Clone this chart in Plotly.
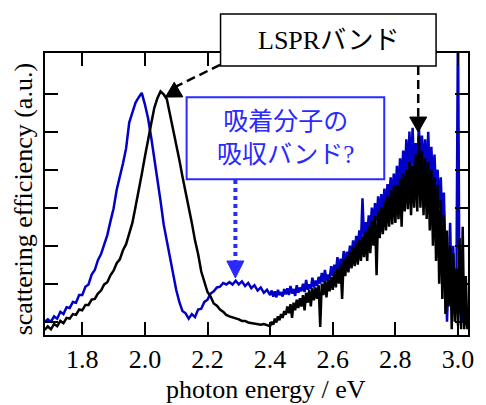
import numpy as np
import plotly.graph_objects as go

# energy grid (eV)
energy_low = np.round(np.arange(1.68, 2.395, 0.01), 3)
energy_high = np.round(np.arange(2.40, 3.0325, 0.005), 3)

blue_low = [0.000, 0.006, 0.000, 0.014, 0.008, 0.026, 0.020, 0.038, 0.036, 0.052,
            0.050, 0.070, 0.070, 0.092, 0.098, 0.124, 0.136, 0.162, 0.178, 0.206,
            0.228, 0.264, 0.298, 0.347, 0.378, 0.416, 0.456, 0.524, 0.550, 0.576,
            0.590, 0.602, 0.572, 0.536, 0.486, 0.432, 0.370, 0.318, 0.256, 0.214,
            0.166, 0.126, 0.084, 0.052, 0.028, 0.022, 0.008, 0.020, 0.012, 0.032,
            0.034, 0.052, 0.058, 0.074, 0.080, 0.090, 0.092, 0.102, 0.098, 0.104,
            0.098, 0.108, 0.098, 0.106, 0.094, 0.102, 0.088, 0.096, 0.082, 0.090,
            0.076, 0.084]
blue_high = [0.070, 0.082, 0.066, 0.080, 0.064, 0.084, 0.070, 0.078, 0.066, 0.086,
             0.072, 0.088, 0.070, 0.094, 0.074, 0.086, 0.068, 0.096, 0.076, 0.090,
             0.080, 0.100, 0.078, 0.110, 0.084, 0.098, 0.086, 0.116, 0.090, 0.108,
             0.094, 0.118, 0.100, 0.128, 0.104, 0.136, 0.108, 0.124, 0.112, 0.146,
             0.120, 0.150, 0.128, 0.170, 0.136, 0.166, 0.142, 0.186, 0.150, 0.184,
             0.160, 0.200, 0.170, 0.214, 0.176, 0.226, 0.196, 0.240, 0.206, 0.325,
             0.214, 0.262, 0.226, 0.280, 0.244, 0.300, 0.250, 0.312, 0.266, 0.330,
             0.280, 0.336, 0.290, 0.350, 0.300, 0.362, 0.316, 0.380, 0.330, 0.390,
             0.330, 0.410, 0.346, 0.430, 0.360, 0.450, 0.372, 0.480, 0.386, 0.500,
             0.390, 0.510, 0.400, 0.470, 0.380, 0.520, 0.410, 0.490, 0.396, 0.480,
             0.380, 0.500, 0.370, 0.460, 0.350, 0.440, 0.330, 0.400, 0.300, 0.380,
             0.260, 0.340, 0.180, 0.000, 0.120, 0.260, 0.060, 0.200, 0.020, 0.100,
             0.800, 0.020, 0.060, 0.000, 0.040, -0.010, 0.020]

black_low = [-0.022, -0.012, -0.020, -0.006, -0.012, 0.002, -0.004, 0.010, 0.008, 0.020,
             0.018, 0.032, 0.030, 0.044, 0.044, 0.058, 0.060, 0.074, 0.082, 0.098,
             0.104, 0.122, 0.134, 0.154, 0.164, 0.188, 0.204, 0.234, 0.260, 0.302,
             0.342, 0.388, 0.434, 0.482, 0.520, 0.562, 0.588, 0.606, 0.598, 0.586,
             0.546, 0.512, 0.464, 0.426, 0.382, 0.344, 0.298, 0.260, 0.214, 0.178,
             0.132, 0.106, 0.078, 0.066, 0.048, 0.042, 0.032, 0.026, 0.018, 0.014,
             0.012, 0.008, 0.006, 0.002, 0.002, -0.002, -0.004, -0.006, -0.006, -0.008,
             -0.006, -0.010]
black_high = [-0.012, 0.000, -0.008, 0.008, -0.002, 0.014, 0.004, 0.020, 0.010, 0.028,
              0.018, 0.040, 0.022, 0.046, 0.010, 0.050, 0.030, 0.058, 0.036, 0.062,
              0.040, 0.070, 0.030, 0.076, 0.050, 0.084, 0.040, 0.088, 0.056, 0.090,
              0.060, 0.096, -0.014, 0.100, 0.070, 0.108, 0.064, 0.112, 0.080, 0.118,
              0.084, 0.130, 0.090, 0.140, 0.100, 0.150, 0.060, 0.164, 0.120, 0.172,
              0.130, 0.184, 0.140, 0.196, 0.146, 0.206, 0.150, 0.216, 0.160, 0.224,
              0.170, 0.236, 0.160, 0.250, 0.180, 0.266, 0.200, 0.280, 0.122, 0.290,
              0.220, 0.300, 0.230, 0.316, 0.240, 0.330, 0.250, 0.346, 0.256, 0.356,
              0.260, 0.360, 0.270, 0.376, 0.250, 0.390, 0.290, 0.400, 0.296, 0.420,
              0.280, 0.410, 0.300, 0.440, 0.290, 0.490, 0.300, 0.450, 0.280, 0.430,
              0.270, 0.420, 0.240, 0.400, 0.200, 0.380, 0.160, 0.360, 0.100, 0.320,
              0.060, 0.280, 0.020, 0.240, 0.040, 0.200, -0.020, 0.180, 0.000, 0.140,
              -0.010, 0.220, -0.020, 0.250, -0.020, 0.120, -0.020]

x_ticks = [1.8, 2.0, 2.2, 2.4, 2.6, 2.8, 3.0]
y_ticks = [0.0, 0.1, 0.2, 0.3, 0.4, 0.5, 0.6]

energy = np.concatenate([energy_low, energy_high])
blue = blue_low + blue_high
black = black_low + black_high

SERIF = "Liberation Serif, 'Noto Sans CJK JP'"
BLUE_LINE = "#0000c8"
BLUE_TXT = "#2a2aff"

fig = go.Figure()
fig.add_trace(go.Scatter(x=energy, y=blue, mode="lines",
                         line=dict(color=BLUE_LINE, width=2.5), showlegend=False))
fig.add_trace(go.Scatter(x=energy, y=black, mode="lines",
                         line=dict(color="black", width=2.5), showlegend=False))

axis_common = dict(showline=True, linecolor="black", linewidth=2, mirror="ticks",
                   ticks="inside", ticklen=13, tickwidth=2, tickcolor="black",
                   showgrid=False, zeroline=False)
fig.update_xaxes(range=[1.681, 3.032], tickvals=x_ticks, tickformat=".1f",
                 tickfont=dict(family=SERIF, size=26, color="black"), **axis_common)
fig.update_yaxes(range=[-0.035, 0.707], tickvals=y_ticks, showticklabels=False,
                 **axis_common)

shapes = []
# LSPR box
shapes.append(dict(type="rect", xref="paper", yref="paper", x0=0.415, x1=0.9245,
                   y0=0.954, y1=1.138, line=dict(color="black", width=1.5),
                   fillcolor="white", layer="above"))
# Blue box
shapes.append(dict(type="rect", xref="paper", yref="paper", x0=0.3348, x1=0.802,
                   y0=0.552, y1=0.843, line=dict(color=BLUE_TXT, width=2),
                   fillcolor="white", layer="above"))
# dashed shaft to the black peak
shapes.append(dict(type="line", xref="x", yref="y", x0=2.240, y0=0.676, x1=2.081, y1=0.611,
                   line=dict(color="black", width=2.5, dash="9px,5px"), layer="above"))
# arrowhead at black peak
shapes.append(dict(type="path", xref="x", yref="y", xsizemode="pixel", ysizemode="pixel",
                   xanchor=2.066, yanchor=0.591,
                   path="M0,0 L8.7,14.9 L17.3,0.2 Z", fillcolor="black",
                   line=dict(color="black", width=1), layer="above"))
# dashed vertical shaft to 2.87 eV
shapes.append(dict(type="line", xref="x", yref="y", x0=2.873, y0=0.673, x1=2.873, y1=0.539,
                   line=dict(color="black", width=2.5, dash="9px,5px"), layer="above"))
shapes.append(dict(type="path", xref="x", yref="y", xsizemode="pixel", ysizemode="pixel",
                   xanchor=2.873, yanchor=0.499,
                   path="M0,0 L-8.5,15 L8.5,15 Z", fillcolor="black",
                   line=dict(color="black", width=1), layer="above"))
# blue dotted shaft
shapes.append(dict(type="line", xref="x", yref="y", x0=2.289, y0=0.373, x1=2.289, y1=0.160,
                   line=dict(color=BLUE_TXT, width=4, dash="dot"), layer="above"))
shapes.append(dict(type="path", xref="x", yref="y", xsizemode="pixel", ysizemode="pixel",
                   xanchor=2.289, yanchor=0.115,
                   path="M0,0 L-8.5,17 L8.5,17 Z", fillcolor=BLUE_TXT,
                   line=dict(color=BLUE_TXT, width=1), layer="above"))

annotations = [
    dict(text="LSPRバンド", xref="paper", yref="paper", x=0.670, y=1.046,
         xanchor="center", yanchor="middle", showarrow=False,
         font=dict(family=SERIF, size=26, color="black")),
    dict(text="吸着分子の<br>吸収バンド?", xref="paper", yref="paper", x=0.5685, y=0.697,
         xanchor="center", yanchor="middle", showarrow=False,
         font=dict(family=SERIF, size=25, color=BLUE_TXT)),
    dict(text="scattering efficiency (a.u.)", xref="paper", yref="paper", x=-0.0514, y=0.482,
         xanchor="center", yanchor="middle", showarrow=False, textangle=-90,
         font=dict(family=SERIF, size=26, color="black")),
    dict(text="photon energy / eV", xref="paper", yref="paper", x=0.523, y=-0.192,
         xanchor="center", yanchor="middle", showarrow=False,
         font=dict(family=SERIF, size=26, color="black")),
]

# the page adds an 8px body margin, so the figure is shifted back by 8px
fig.update_layout(width=478, height=397, margin=dict(l=37, r=13, t=45, b=70),
                  paper_bgcolor="white", plot_bgcolor="white",
                  shapes=shapes, annotations=annotations)
fig.write_html("out.html")
